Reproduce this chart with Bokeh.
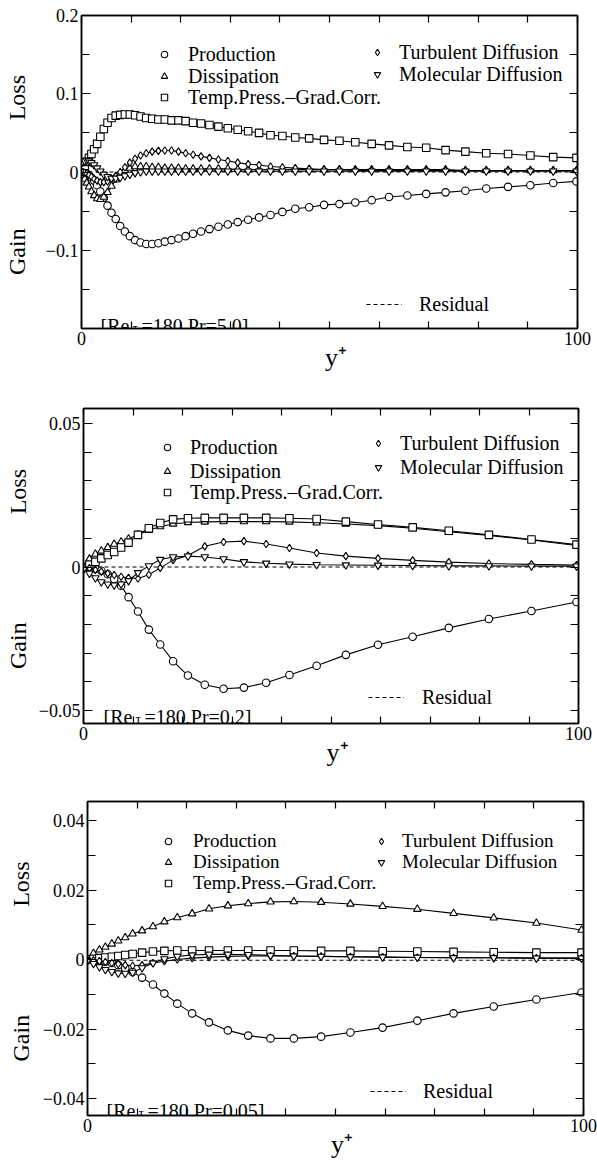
import math
from bokeh.plotting import figure
from bokeh.layouts import column
from bokeh.models import (Range1d, FixedTicker, LinearAxis, CustomJSTickFormatter,
                          Legend, LegendItem, Label)
from bokeh.embed import file_html
from bokeh.resources import INLINE

SERIF = "Liberation Serif"
NB = "\u00a0"

# ---------------- data: Pr = 5.0 ----------------
yplus_a = [0.0, 0.3, 0.65, 1.05, 1.5, 2.0, 2.55, 3.15, 3.8, 4.5, 5.25, 6.05, 6.9, 7.8, 8.75,
           9.75, 10.8, 11.9, 13.05, 14.25, 15.5, 16.8, 18.15, 19.55, 21.0, 22.5, 24.1, 25.8,
           27.6, 29.5, 31.5, 33.6, 35.8, 38.1, 40.5, 43.1, 45.9, 48.9, 52.0, 55.2, 58.5, 62.0,
           65.7, 69.5, 73.4, 77.4, 81.6, 86.0, 90.5, 95.1, 99.8]
prod_a = [0.0, -0.0003, -0.001, -0.002, -0.004, -0.007, -0.011, -0.017, -0.025, -0.033, -0.043,
          -0.052, -0.060, -0.069, -0.076, -0.082, -0.087, -0.090, -0.092, -0.092, -0.091, -0.089,
          -0.087, -0.085, -0.082, -0.079, -0.076, -0.073, -0.070, -0.067, -0.064, -0.061, -0.058,
          -0.055, -0.051, -0.047, -0.045, -0.042, -0.041, -0.039, -0.036, -0.032, -0.030, -0.028,
          -0.026, -0.024, -0.021, -0.019, -0.017, -0.014, -0.012]
diss_a = [0.0, -0.004, -0.009, -0.014, -0.019, -0.025, -0.030, -0.034, -0.035, -0.032, -0.026,
          -0.018, -0.010, -0.003, 0.002, 0.005, 0.007, 0.007, 0.007, 0.006, 0.006, 0.005, 0.005,
          0.005, 0.004, 0.004, 0.004, 0.004, 0.004, 0.004, 0.003, 0.003, 0.003, 0.003, 0.003,
          0.003, 0.003, 0.003, 0.003, 0.003, 0.003, 0.003, 0.003, 0.003, 0.003, 0.002, 0.002,
          0.002, 0.002, 0.002, 0.002]
tpg_a = [0.0, 0.003, 0.008, 0.013, 0.018, 0.023, 0.029, 0.036, 0.045, 0.055, 0.063, 0.069, 0.072,
         0.073, 0.0735, 0.0735, 0.0725, 0.071, 0.069, 0.068, 0.067, 0.067, 0.066, 0.066, 0.065,
         0.063, 0.062, 0.060, 0.058, 0.056, 0.054, 0.052, 0.050, 0.047, 0.046, 0.044, 0.043,
         0.041, 0.040, 0.038, 0.036, 0.034, 0.032, 0.031, 0.028, 0.026, 0.024, 0.023, 0.021,
         0.019, 0.018]
turb_a = [0.0, 0.0, -0.001, -0.002, -0.004, -0.006, -0.009, -0.011, -0.013, -0.013, -0.012,
          -0.009, -0.005, 0.0, 0.006, 0.012, 0.017, 0.021, 0.024, 0.026, 0.027, 0.0275, 0.0275,
          0.026, 0.024, 0.022, 0.020, 0.018, 0.016, 0.014, 0.012, 0.010, 0.009, 0.007, 0.006,
          0.005, 0.004, 0.003, 0.003, 0.002, 0.002, 0.002, 0.002, 0.002, 0.002, 0.002, 0.002,
          0.002, 0.002, 0.002, 0.002]
mol_a = [0.012, 0.013, 0.014, 0.015, 0.014, 0.012, 0.009, 0.005, 0.001, -0.003, -0.006, -0.008,
         -0.008, -0.007, -0.005, -0.003, -0.001, 0.0, 0.001, 0.001, 0.001, 0.001, 0.001, 0.001,
         0.001, 0.001, 0.001, 0.001, 0.001, 0.001, 0.001, 0.001, 0.001, 0.001, 0.001, 0.001,
         0.001, 0.001, 0.001, 0.001, 0.001, 0.001, 0.001, 0.001, 0.001, 0.001, 0.001, 0.001,
         0.001, 0.001, 0.001]
resid_a = [0.0, 0.0, 0.0, 0.0, 0.0, 0.0, 0.0, 0.0, 0.0, 0.0, 0.0, 0.0, 0.0, 0.0, 0.0, 0.0, 0.0,
           0.0, 0.0, 0.0, 0.0, 0.0, 0.0, 0.0, 0.0, 0.0, 0.0, 0.0, 0.0, 0.0, 0.0, 0.0, 0.0, 0.0,
           0.0, 0.0, 0.0, 0.0, 0.0, 0.0, 0.0, 0.0, 0.0, 0.0, 0.0, 0.0, 0.0, 0.0, 0.0, 0.0, 0.0]

# ---------------- data: Pr = 0.2 and 0.05 (coarser grid) ----------------
yplus_b = [0.0, 1.2, 2.4, 3.6, 4.9, 6.2, 7.6, 9.1, 11.0, 13.2, 15.5, 18.1, 21.1, 24.5, 28.3,
           32.4, 36.9, 41.6, 47.1, 53.0, 59.5, 66.5, 73.8, 81.9, 90.5, 99.6]

prod_b = [0.0, -0.0002, -0.0006, -0.0013, -0.0025, -0.0042, -0.0065, -0.0105, -0.0155, -0.0218,
          -0.027, -0.0328, -0.0378, -0.041, -0.0424, -0.042, -0.0403, -0.0376, -0.0344, -0.0306,
          -0.0271, -0.0243, -0.0212, -0.0181, -0.0153, -0.0122]
diss_b = [0.0, 0.0028, 0.0045, 0.0056, 0.0068, 0.008, 0.0088, 0.0098, 0.0112, 0.0128, 0.0141,
          0.015, 0.0155, 0.0157, 0.0158, 0.0158, 0.0158, 0.0157, 0.0154, 0.015, 0.0144, 0.0135,
          0.0123, 0.011, 0.0094, 0.0075]
tpg_b = [0.0, 0.0008, 0.0018, 0.003, 0.0042, 0.0052, 0.0068, 0.0085, 0.0112, 0.0135, 0.0153,
         0.0166, 0.017, 0.0171, 0.0171, 0.0171, 0.0171, 0.017, 0.0167, 0.0158, 0.0148, 0.0138,
         0.0126, 0.0112, 0.0096, 0.0078]
turb_b = [0.0, -0.0004, -0.001, -0.0016, -0.0022, -0.0028, -0.0034, -0.0038, -0.004, -0.0027,
          -0.0003, 0.0024, 0.004, 0.0072, 0.0087, 0.009, 0.008, 0.0066, 0.0049, 0.0038, 0.003,
          0.0023, 0.0017, 0.0012, 0.0009, 0.0007]
mol_b = [-0.0008, -0.0022, -0.0038, -0.0052, -0.006, -0.0063, -0.006, -0.0048, -0.002, 0.0004,
         0.0026, 0.0035, 0.0038, 0.0035, 0.0028, 0.0018, 0.0013, 0.001, 0.0008, 0.0007, 0.0006,
         0.0005, 0.0004, 0.0004, 0.0003, 0.0003]
resid_b = [0.0, 0.0, 0.0, 0.0, 0.0, 0.0, 0.0, 0.0, 0.0, 0.0, 0.0, 0.0, 0.0, 0.0, 0.0, 0.0, 0.0,
           0.0, 0.0, 0.0, 0.0, 0.0, 0.0, 0.0, 0.0, 0.0]

prod_c = [0.0, -0.0001, -0.0003, -0.0006, -0.001, -0.0016, -0.0025, -0.0036, -0.0052, -0.0072,
          -0.0098, -0.0127, -0.0155, -0.0181, -0.0204, -0.0219, -0.0227, -0.0227, -0.0222,
          -0.021, -0.0196, -0.0176, -0.0155, -0.0135, -0.0115, -0.0095]
diss_c = [0.0, 0.0018, 0.0028, 0.0036, 0.0045, 0.0054, 0.0063, 0.0074, 0.0083, 0.0095, 0.0109,
          0.0121, 0.0132, 0.0146, 0.0155, 0.0161, 0.0166, 0.0167, 0.0165, 0.016, 0.0153, 0.0145,
          0.0133, 0.012, 0.0105, 0.0085]
tpg_c = [0.0, 0.0002, 0.0004, 0.0006, 0.0008, 0.001, 0.0013, 0.0016, 0.002, 0.0023, 0.0025,
         0.0026, 0.0026, 0.0026, 0.0026, 0.0026, 0.0026, 0.0026, 0.0025, 0.0025, 0.0024, 0.0023,
         0.0022, 0.0021, 0.002, 0.002]
turb_c = [0.0, -0.0002, -0.0004, -0.0007, -0.001, -0.0013, -0.0016, -0.0018, -0.0016, -0.001,
          -0.0005, 0.0, 0.0004, 0.0007, 0.0009, 0.001, 0.001, 0.001, 0.0009, 0.0008, 0.0007,
          0.0006, 0.0005, 0.0005, 0.0004, 0.0004]
mol_c = [-0.0003, -0.0012, -0.0021, -0.0029, -0.0035, -0.0039, -0.004, -0.0037, -0.0024, -0.001,
         0.0002, 0.0009, 0.0013, 0.0015, 0.0015, 0.0014, 0.0012, 0.001, 0.0009, 0.0008, 0.0007,
         0.0006, 0.0005, 0.0005, 0.0004, 0.0004]
resid_c = [0.0, -0.0001, -0.0002, -0.0002, -0.0002, -0.0002, -0.0002, -0.0002, -0.0002, -0.0002,
           -0.0002, -0.0002, -0.0002, -0.0002, -0.0002, -0.0002, -0.0002, -0.0002, -0.0002,
           -0.0002, -0.0002, -0.0002, -0.0002, -0.0002, -0.0002, -0.0002]

series_names = ["Production", "Dissipation", "Temp.Press.\u2013Grad.Corr.",
                "Turbulent Diffusion", "Molecular Diffusion"]
series_markers = ["circle", "triangle", "square", "diamond", "inverted_triangle"]

x_ticks = [0, 100]
x_minor = [10, 20, 30, 40, 50, 60, 70, 80, 90]
x_all = [0, 10, 20, 30, 40, 50, 60, 70, 80, 90, 100]

# legend placement per panel: (glyph centre x, text start x, row centre y) in canvas px
panels = [
    dict(y=yplus_a, data=[prod_a, diss_a, tpg_a, turb_a, mol_a], resid=resid_a,
         yr=(-0.2, 0.2), yt=[-0.1, 0.0, 0.1, 0.2], ym=[-0.15, -0.05, 0.05, 0.15],
         yall=[-0.15, -0.1, -0.05, 0.0, 0.05, 0.1, 0.15],
         left=80, fw=496, right=21, top=15, fh=313, bottom=57,
         rows=[(163, 187, 54), (163, 187, 76), (163, 187, 97), (376, 398, 52), (376, 398, 74)],
         lfont="20px", rh=23,
         res=(365, 418, 304), ylab_standoff=13, xlab_standoff=-5,
         re=(100, 325, "=180,Pr=5.0]")),
    dict(y=yplus_b, data=[prod_b, diss_b, tpg_b, turb_b, mol_b], resid=resid_b,
         yr=(-0.0545, 0.0552), yt=[-0.05, 0.0, 0.05],
         ym=[-0.04, -0.03, -0.02, -0.01, 0.01, 0.02, 0.03, 0.04],
         yall=[-0.05, -0.04, -0.03, -0.02, -0.01, 0.0, 0.01, 0.02, 0.03, 0.04, 0.05],
         left=83, fw=495, right=19, top=23, fh=315, bottom=54,
         rows=[(167, 190, 62), (167, 190, 86), (167, 190, 107), (378, 400, 58), (378, 400, 82)],
         lfont="20px", rh=23,
         res=(368, 422, 312), ylab_standoff=5, xlab_standoff=-5,
         re=(103, 331, "=180,Pr=0.2]")),
    dict(y=yplus_b, data=[prod_c, diss_c, tpg_c, turb_c, mol_c], resid=resid_c,
         yr=(-0.0449, 0.0455), yt=[-0.04, -0.02, 0.0, 0.02, 0.04],
         ym=[-0.03, -0.01, 0.01, 0.03],
         yall=[-0.04, -0.03, -0.02, -0.01, 0.0, 0.01, 0.02, 0.03, 0.04],
         left=87, fw=496, right=14, top=24, fh=314, bottom=49,
         rows=[(168, 193, 64), (168, 193, 85), (168, 193, 106), (381, 402, 64), (381, 402, 85)],
         lfont="19px", rh=21,
         res=(370, 423, 314), ylab_standoff=6, xlab_standoff=-5,
         re=(106, 333, "=180,Pr=0.05]")),
]

fmt_code = """
if (Math.abs(tick) < 1e-12) { return "0"; }
const s = Math.abs(tick).toString();
return (tick < 0 ? "\u2212" : "") + s;
"""


def style_axis(ax, ticks, minor, tin, min_in, formatter=None):
    ax.ticker = FixedTicker(ticks=ticks, minor_ticks=minor)
    ax.major_tick_in = tin
    ax.major_tick_out = 0
    ax.minor_tick_in = min_in
    ax.minor_tick_out = 0
    ax.axis_line_color = "black"
    ax.axis_line_width = 1.5
    ax.major_tick_line_color = "black"
    ax.minor_tick_line_color = "black"
    ax.major_tick_line_width = 1.2
    ax.minor_tick_line_width = 1.2
    if formatter is not None:
        ax.formatter = formatter
    ax.major_label_text_font = SERIF
    ax.major_label_text_font_size = "18px"
    ax.major_label_text_color = "black"
    ax.major_label_standoff = 3
    ax.axis_label_text_font = SERIF
    ax.axis_label_text_font_style = "normal"
    ax.axis_label_text_color = "black"


def canvas_label(p, x, y, text, size, angle=0.0, align="left", baseline="alphabetic"):
    p.add_layout(Label(x=x, y=y, x_units="canvas", y_units="canvas", text=text,
                       text_font=SERIF, text_font_size=size, text_color="black",
                       angle=angle, text_align=align, text_baseline=baseline))


def one_legend(p, renderer, label, gx0, tx, cy, frame_left, frame_bottom, font, rh,
               gw=18, gh=16):
    # gx0: left edge of the glyph box (canvas px); tx: text start; cy: row centre (canvas px)
    leg = Legend(items=[LegendItem(label=label, renderers=[renderer])],
                 location=(gx0 - frame_left, frame_bottom - cy - rh / 2.0),
                 orientation="vertical")
    leg.label_standoff = int(round(tx - gx0 - gw))
    leg.label_text_font = SERIF
    leg.label_text_font_size = font
    leg.label_text_color = "black"
    leg.glyph_width = gw
    leg.glyph_height = gh
    leg.label_height = rh
    leg.spacing = 0
    leg.padding = 0
    leg.margin = 0
    leg.border_line_color = None
    leg.background_fill_alpha = 0
    p.add_layout(leg)


figs = []
for cfg in panels:
    p = figure(frame_width=cfg["fw"], frame_height=cfg["fh"],
               min_border_left=cfg["left"], min_border_right=cfg["right"],
               min_border_top=cfg["top"], min_border_bottom=cfg["bottom"],
               x_range=Range1d(0, 100), y_range=Range1d(*cfg["yr"]),
               output_backend="svg", toolbar_location=None)
    p.frame_align = False
    p.grid.visible = False
    p.outline_line_color = "black"
    p.outline_line_width = 1.5
    p.background_fill_color = "white"
    p.border_fill_color = "white"

    xa = p.xaxis[0]
    style_axis(xa, x_ticks, x_minor, 7, 7)
    xa.axis_label = NB + NB + "y\u207a"
    xa.axis_label_text_font_size = "26px"
    xa.axis_label_standoff = cfg["xlab_standoff"]

    ya = p.yaxis[0]
    style_axis(ya, cfg["yt"], cfg["ym"], 9, 8, CustomJSTickFormatter(code=fmt_code))
    ya.axis_label = "Gain" + NB * 18 + "Loss" + NB
    ya.axis_label_text_font_size = "24px"
    ya.axis_label_standoff = cfg["ylab_standoff"]

    top_ax = LinearAxis()
    style_axis(top_ax, [], x_all, 7, 7)
    p.add_layout(top_ax, "above")
    right_ax = LinearAxis()
    style_axis(right_ax, [], cfg["yall"], 8, 8)
    p.add_layout(right_ax, "right")

    rres = p.line(cfg["y"], cfg["resid"], line_color="black", line_width=1.1, line_dash="4 3")
    scat = []
    for vals, mk in zip(cfg["data"], series_markers):
        p.line(cfg["y"], vals, line_color="black", line_width=1.1)
        r = p.scatter(cfg["y"], vals, marker=mk, size=7.5, line_color="black", line_width=1.1,
                      fill_color="white")
        scat.append(r)

    fl = cfg["left"]
    fb = cfg["top"] + cfg["fh"]
    for i, (gcx, tx, cy) in enumerate(cfg["rows"]):
        one_legend(p, scat[i], series_names[i], gcx - 9, tx, cy, fl, fb, cfg["lfont"], cfg["rh"])
    rx0, rtx, rcy = cfg["res"]
    one_legend(p, rres, "Residual", rx0, rtx, rcy, fl, fb, "20px", 23, gw=36)

    rx, ry, rtxt = cfg["re"]
    canvas_label(p, rx, ry, "[Re", "20px")
    canvas_label(p, rx + 32, ry + 3, "\u03c4", "14px")
    canvas_label(p, rx + 41, ry, rtxt, "20px")
    figs.append(p)

layout = column(*figs, spacing=0)
open("out.html", "w").write(file_html(layout, INLINE))
